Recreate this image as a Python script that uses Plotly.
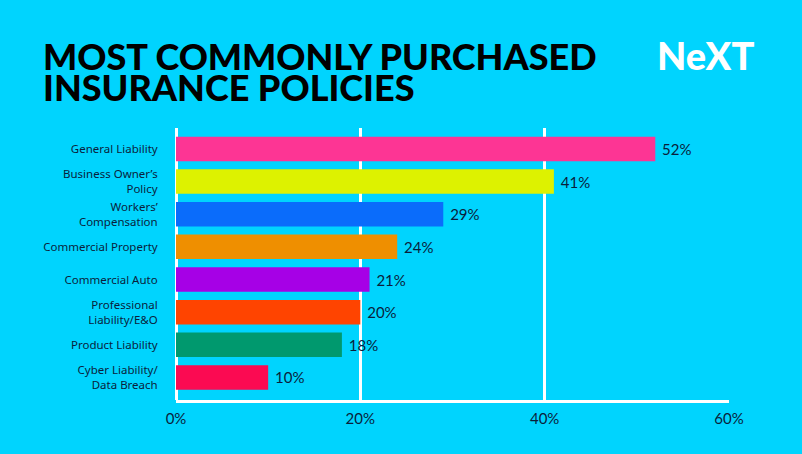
import plotly.graph_objects as go

# Data
categories = [
    "General Liability",
    "Business Owner’s<br>Policy",
    "Workers’<br>Compensation",
    "Commercial Property",
    "Commercial Auto",
    "Professional<br>Liability/E&O",
    "Product Liability",
    "Cyber Liability/<br>Data Breach",
]
values = [52, 41, 29, 24, 21, 20, 18, 10]
bar_colors = ["#fd3594", "#ddf200", "#0a6cfb", "#ef8f00",
              "#a600e6", "#ff4400", "#00996e", "#fb0a52"]
x_ticks = [0, 20, 40, 60]
x_tick_labels = ["0%", "20%", "40%", "60%"]

BG = "#00d4fe"
INK = "#0a1e3c"

fig = go.Figure()
fig.add_trace(go.Bar(
    x=values,
    y=categories,
    orientation="h",
    marker=dict(color=bar_colors, line=dict(width=0)),
    width=0.75,
    text=[f" {v}%" for v in values],
    textposition="outside",
    cliponaxis=False,
    textfont=dict(family="Lato", size=15, color=INK),
    hoverinfo="skip",
))

fig.update_layout(
    width=802,
    height=454,
    paper_bgcolor=BG,
    plot_bgcolor=BG,
    margin=dict(l=176, r=73, t=128, b=54),
    showlegend=False,
    xaxis=dict(
        range=[0, 60],
        tickvals=x_ticks,
        ticktext=x_tick_labels,
        showgrid=True,
        gridcolor="white",
        gridwidth=3,
        zeroline=True,
        zerolinecolor="white",
        zerolinewidth=3,
        showline=True,
        linecolor="white",
        linewidth=3,
        ticks="outside",
        ticklen=3,
        tickcolor="rgba(0,0,0,0)",
        tickfont=dict(family="Lato", size=15, color=INK),
        fixedrange=True,
    ),
    yaxis=dict(
        categoryorder="array",
        categoryarray=categories,
        range=[7.69, -0.64],
        showgrid=False,
        zeroline=False,
        ticks="outside",
        ticklen=15,
        tickcolor="rgba(0,0,0,0)",
        tickfont=dict(family="Noto Sans", size=11.5, color=INK),
        fixedrange=True,
    ),
)

# Title (two lines) and logo
title_lines = ["MOST COMMONLY PURCHASED", "INSURANCE POLICIES"]
for line, ypix in zip(title_lines, [56, 87]):
    fig.add_annotation(
        text=line,
        xref="paper", yref="paper",
        x=(41 - 176) / 553, y=1 + (128 - ypix) / 272,
        xanchor="left", yanchor="middle",
        showarrow=False,
        font=dict(family="Lato", size=36, color="black", weight=900),
    )

fig.add_annotation(
    text="NeXT",
    xref="paper", yref="paper",
    x=(705 - 176) / 553, y=1 + (128 - 55) / 272,
    xanchor="center", yanchor="middle",
    showarrow=False,
    font=dict(family="Lato", size=38, color="white", weight=900),
)

fig.write_html("out.html", config={"displayModeBar": False},
               post_script="document.body.style.margin='0';")
